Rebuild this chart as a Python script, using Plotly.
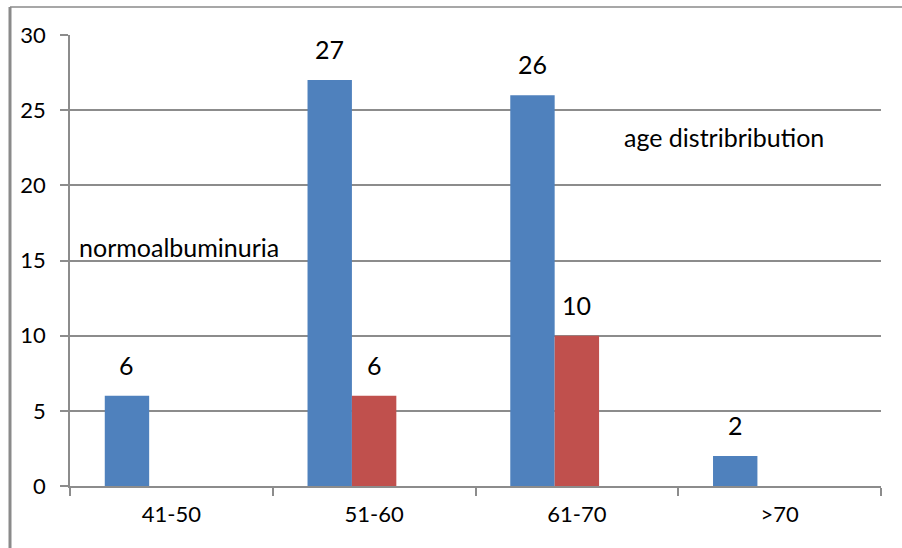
import plotly.graph_objects as go

# Age groups and patient counts per series
age_groups = ["41-50", "51-60", "61-70", ">70"]
series_blue = [6, 27, 26, 2]
series_red = [None, 6, 10, None]
blue_color = "#4F81BD"
red_color = "#C0504D"

W, H = 902, 548
L, R, T, B = 70, 21, 35, 62

FONT = "Lato"
GRID = "#8c8c8c"

# Each category holds three bar slots (the third slot stays empty)
slot_w = 0.219
blue_off = -1.5 * slot_w
red_off = -0.5 * slot_w

fig = go.Figure()
fig.add_bar(x=age_groups, y=series_blue, marker_color=blue_color,
            marker_line_width=0, width=slot_w, offset=blue_off, name="blue")
fig.add_bar(x=age_groups, y=series_red, marker_color=red_color,
            marker_line_width=0, width=slot_w, offset=red_off, name="red")

# Value labels above each bar, placed from the same data
for vals, off in ((series_blue, blue_off), (series_red, red_off)):
    for i, v in enumerate(vals):
        if v is None:
            continue
        fig.add_annotation(x=i + off + slot_w / 2, y=v, text=str(v),
                           showarrow=False, yshift=31, yanchor="middle",
                           font=dict(family=FONT, size=25, color="#000"))

# Free text labels inside the plot
fig.add_annotation(x=-0.5, y=15, xref="x", yref="y", text="normoalbuminuria",
                   showarrow=False, xanchor="left", yanchor="bottom",
                   xshift=7, yshift=-3,
                   font=dict(family=FONT, size=25, color="#000"))
fig.add_annotation(x=2.224, y=23.2, xref="x", yref="y", text="age distribribution",
                   showarrow=False, xanchor="left", yanchor="middle",
                   font=dict(family=FONT, size=25, color="#000"))

# Outer frame (left and top edges)
plot_w = W - L - R
plot_h = H - T - B
fig.add_shape(type="line", xref="paper", yref="paper",
              x0=(10 - L) / plot_w, x1=(10 - L) / plot_w,
              y0=-(B + 5) / plot_h, y1=1 + (T - 7) / plot_h,
              line=dict(color="#8a8a8a", width=3))
fig.add_shape(type="line", xref="paper", yref="paper",
              x0=(10 - L) / plot_w, x1=(W + 5 - L) / plot_w,
              y0=1 + (T - 7) / plot_h, y1=1 + (T - 7) / plot_h,
              line=dict(color="#8a8a8a", width=1.5))

fig.update_layout(
    width=W, height=H,
    margin=dict(l=L, r=R, t=T, b=B),
    paper_bgcolor="white", plot_bgcolor="white",
    barmode="overlay",
    showlegend=False,
    font=dict(family=FONT, size=22, color="#000"),
)
fig.update_xaxes(
    type="category", tickson="boundaries", ticks="outside", ticklen=8,
    tickcolor=GRID, tickwidth=1.5, showline=True, linecolor=GRID, linewidth=1.5,
    showgrid=False, tickfont=dict(family=FONT, size=22, color="#000"),
    range=[-0.5, 3.5], ticklabelstandoff=8,
)
fig.update_yaxes(
    range=[0, 30], dtick=5, ticks="outside", ticklen=8, tickcolor=GRID,
    tickwidth=1.5, showline=True, linecolor=GRID, linewidth=1.5,
    showgrid=True, gridcolor=GRID, gridwidth=1.5, zeroline=False,
    tickfont=dict(family=FONT, size=22, color="#000"), ticklabelstandoff=10,
)

fig.write_html("out.html")
